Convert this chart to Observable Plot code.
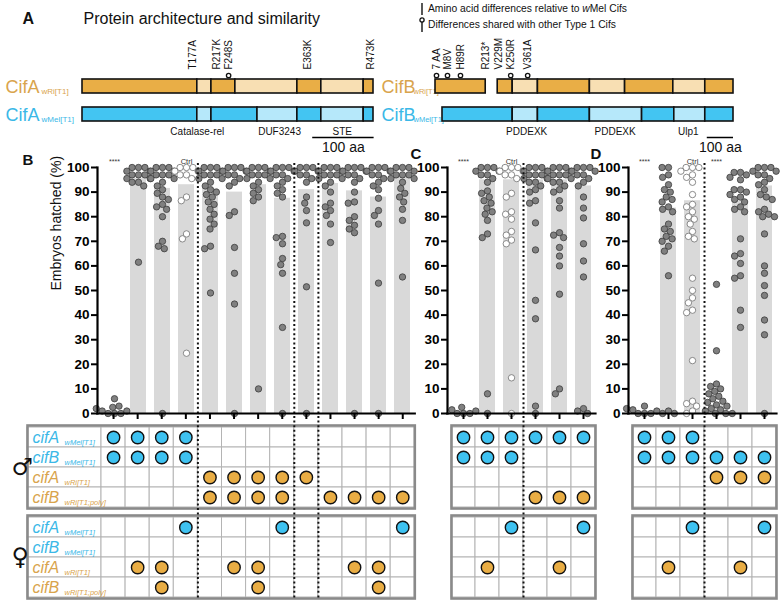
<!DOCTYPE html>
<html><head><meta charset="utf-8">
<script src="https://cdn.jsdelivr.net/npm/d3@7"></script>
<script src="https://cdn.jsdelivr.net/npm/@observablehq/plot@0.6"></script>
<style>
html,body{margin:0;padding:0;background:#fff;}
#fig{position:relative;width:780px;height:601px;overflow:hidden;font-family:"Liberation Sans",Arial,sans-serif;background:#fff;}
.leg{position:absolute;font-size:10.3px;line-height:12px;white-space:nowrap;color:#111;}
.leg svg{position:absolute;}
</style></head><body><div id="fig"></div>
<script>
// ---------- Panel A data (positions in amino acids) ----------
const cifA_wRi_start = [0,187,210,249,350,389,458];
const cifA_wRi_end   = [187,210,249,350,389,458,474];
const cifA_wRi_shade = ["d","l","d","l","d","l","d"];
const cifA_wMel_start = [0,187,210,285,350,389,458];
const cifA_wMel_end   = [187,210,285,350,389,458,474];
const cifA_wMel_shade = ["d","l","d","l","d","l","d"];
const mutA_label  = ["T177A","R217K","F248S","E363K","R473K"];
const mutA_pos    = [179,218,238,367,469];
const mutA_shared = [false,false,true,false,false];
const domA_name = ["Catalase-rel","DUF3243","STE"];
const domA_pos  = [187,321,423];
const scaleA = [375,475];

const cifB_wRi_start = [-28,221,281,382,590,731,924,1052];
const cifB_wRi_end   = [173,281,382,590,731,924,1052,1165];
const cifB_wRi_shade = ["d","d","l","d","l","d","l","d"];
const cifB_wMel_start = [0,281,382,590,799,928,1052];
const cifB_wMel_end   = [281,382,590,799,928,1052,1165];
const cifB_wMel_shade = ["d","l","d","l","d","l","d"];
const mutB_label  = ["7 AA","M8V","H89R","R213*","V229M","K250R","V361A"];
const mutB_pos    = [-24,20,72,173,225,273,341];
const mutB_shared = [true,true,true,false,false,true,true];
const domB_name = ["PDDEXK","PDDEXK","Ulp1"];
const domB_pos  = [337,691,984];
const scaleB = [1060,1165];

// ---------- Panels B-D: embryos hatched (%) ----------
const yTicks = [0,10,20,30,40,50,60,70,80,90,100];
const hatchB = [
 [0,0,0,1,1,2,2.5,3,6],
 [100,100,100,98.5,98.5,97,97,97,95.5,95.5,94,94,92.5,61.5],
 [100,100,100,98.5,98.5,97,97,97,95.5,95.5,94,92.5,91,89.5,88,87,85,84,83,80,70,68,67,0],
 [100,100,100,98.5,98.5,97,97,95.5,88,86.5,73,71,24.5],
 [100,100,100,98.5,98.5,97,97,97,95.5,95.5,94,92.5,91,90,89,88,86,85,83,81,79,77,75,68,67,49],
 [100,100,100,98.5,98.5,97,97,95.5,94,92.5,82,80.5,67.5,57,44.5,0],
 [100,100,100,98.5,98.5,97,97,97,95.5,95.5,94,92.5,91,89.5,88,86.5,10],
 [100,100,100,98.5,98.5,97,97,95.5,94,92.5,91,89.5,88,72,71.5,69,63,60.5,57,35,0],
 [100,100,100,98.5,98.5,97,97,95.5,94,88,85.5,82.5,77.5,51.5,0],
 [100,100,100,98.5,98.5,97,97,97,95.5,95.5,94,92.5,90,85.5,84,82.5,80.5,77,69.5],
 [100,100,100,98.5,98.5,97,97,95.5,94,90,86,85.5,80,78.5,76.5,75,73.5,0],
 [100,100,100,98.5,98.5,97,97,95.5,94,92.5,91,87.5,82.5,80.5,77,53,0],
 [100,100,100,98.5,98.5,97,97,97,95.5,95.5,94,91.5,89.5,88,86,83,78.5,55.5]
];
const meanB = [1,95.5,91.5,93,91.5,90,93,87.5,91,93.5,90.5,88,96];
const ctrlB = [4], starsB = [1], sepsB = [4.5,8.5,9.5];

const hatchC = [
 [0,0,0,1,1.5,2.5],
 [100,100,100,98.5,98.5,97,97,95.5,94,90.5,89.5,88,86.5,85.5,83.5,82,81,78.5,73,71.5,8,0],
 [100,100,100,98.5,98.5,97,97,95.5,89.5,88,82,81,79,74,72.5,70.5,69,14.5,0],
 [100,100,100,98.5,98.5,97,97,97,95.5,95.5,94,94,92.5,91,90,86.5,85.5,77.5,66.5,46,38.5,3,0],
 [100,100,100,98.5,98.5,97,97,97,95.5,95.5,94,94,92.5,91,90,86.5,83.5,73.5,72.5,71.5,67.5,64,60,48.5,10,8],
 [100,100,100,98.5,98.5,97,97,95.5,94,92.5,88,83.5,79.5,69,62,55.5,2,1,0]
];
const meanC = [1,95,95,95,95,92.5];
const ctrlC = [3], starsC = [1], sepsC = [3.5];

const hatchD = [
 [0,0,0,1,1.5,2,3],
 [100,100,97,96,93,91,90,88,87,86,84,83,82,77,75,74,72,71,70,68,66,56,1,0,0],
 [100,100,100,98.5,97,96,94,89,85,84,82,80,79,77,74,72,71,55,50,47,45,42,41,21.5,5,4,3,1,0],
 [12,11,10,9,8,7,6,5,4.5,3.5,3,2,1.5,1,0,0,0,25.5,52.5],
 [98,98,97,96,95,91,91,90,89,88,87,86,84,83,82,71,65,64,61,56,55,42,35],
 [100,100,100,98.5,98.5,97,97,95.5,94,93,91,89,88,87,83,82,81,80,80,73,60,57,52,48,38,32,0]
];
const meanD = [1,83.5,86.5,3.5,86.5,92.5];
const ctrlD = [3], starsD = [1,4], sepsD = [3.5];

// ---------- Genotype tables ----------
const rowKeys = ["cifA_wMel","cifB_wMel","cifA_wRi","cifB_wRi"];
const rowMain = ["cifA","cifB","cifA","cifB"];
const rowSub  = ["wMel[T1]","wMel[T1]","wRi[T1]","wRi[T1;poly]"];
const maleB   = [[1,2,3,4],[1,2,3,4],[5,6,7,8,9],[5,6,7,8,10,11,12,13]];
const femaleB = [[4,8,13],[],[2,3,6,7,11,12],[3,7,12]];
const maleC   = [[1,2,3,4,5,6],[1,2,3],[],[4,5,6]];
const femaleC = [[3,6],[],[2,5],[]];
const maleD   = [[1,2,3],[1,2,3,4,5,6],[4,5,6],[]];
const femaleD = [[3,6],[],[2,5],[]];

// ---------- colours ----------
const OR_D="#E9AE46", OR_L="#F8DFB3", BL_D="#43C5F2", BL_L="#B6E8FA";
const TXT_OR="#D9A44D", TXT_BL="#3BB8E7";
const DOT_BL="#3EC2F1", DOT_OR="#E9AD44";
const FONT='"Liberation Sans", Arial, sans-serif';

const fig = document.getElementById("fig");
function place(el, left, top){
  el.style.position="absolute"; el.style.left=left+"px"; el.style.top=top+"px";
  el.style.background="transparent"; el.style.maxWidth="none"; el.style.overflow="visible";
  el.style.fontFamily=FONT;
  fig.appendChild(el);
}
function segs(row, s, e, sh){ return s.map((v,i)=>({row, x1:v, x2:e[i], shade:sh[i]})); }

// ---------- Panel A ----------
function protPlot({left, width, ml, mr, domain, segments, muts, doms, scale, name, mainX, subX, subSize, extra}){
  const segFill = d => d.row==="wRi" ? (d.shade==="d"?OR_D:OR_L) : (d.shade==="d"?BL_D:BL_L);
  const plain = muts.filter(d=>!d.shared), shared = muts.filter(d=>d.shared);
  const rowsLab = [{row:"wRi", main:name, sub:"wRi[T1]", c:TXT_OR},{row:"wMel", main:name, sub:"wMel[T1]", c:TXT_BL}];
  const p = Plot.plot({
    width, height:155, marginLeft:ml, marginRight:mr, marginTop:78, marginBottom:34,
    x:{domain, axis:null}, y:{domain:["wRi","wMel"], axis:null, paddingInner:0.517, paddingOuter:0},
    marks:[
      Plot.text(rowsLab, {y:"row", frameAnchor:"left", dx:mainX-ml, dy:1, textAnchor:"start", text:"main", fill:"c", fontSize:18}),
      Plot.text(rowsLab, {y:"row", frameAnchor:"left", dx:subX-ml, dy:5, textAnchor:"start", text:"sub", fill:"c", fontSize:subSize}),
      Plot.ruleX(plain, {x:"pos", y:()=>"wRi", insetTop:-8, insetBottom:7, strokeWidth:1.3}),
      Plot.ruleX(shared, {x:"pos", y:()=>"wRi", insetTop:-5, insetBottom:7, strokeWidth:1.3}),
      Plot.barX(segments, {x1:"x1", x2:"x2", y:"row", fill:segFill, stroke:"#111", strokeWidth:1.6}),
      Plot.ruleX(muts, {x:"pos", y:()=>"wRi", insetTop:7, insetBottom:7, strokeWidth:1.3}),
      Plot.dot(shared, {x:"pos", y:()=>"wRi", dy:-11, r:2.2, fill:"white", stroke:"#111", strokeWidth:1.3}),
      Plot.text(muts, {x:"pos", y:()=>"wRi", text:"label", rotate:-90, textAnchor:"start", dy:-17, fontSize:10, fill:"#111"}),
      Plot.text(doms, {x:"pos", y:()=>"wMel", text:"name", dy:17, fontSize:10, fill:"#111"}),
      Plot.ruleY([scale], {x1:d=>d[0], x2:d=>d[1], y:()=>"wMel", dy:23, strokeWidth:1.5}),
      Plot.text([scale], {x:d=>(d[0]+d[1])/2, y:()=>"wMel", dy:33, text:()=>"100 aa", fontSize:14, fill:"#111"}),
      ...(extra||[])
    ]
  });
  place(p, left, 0);
}
protPlot({left:0, width:390, ml:82, mr:17, domain:[0,474], name:"CifA", mainX:5, subX:41, subSize:8,
  segments:[...segs("wRi",cifA_wRi_start,cifA_wRi_end,cifA_wRi_shade), ...segs("wMel",cifA_wMel_start,cifA_wMel_end,cifA_wMel_shade)],
  muts: mutA_label.map((l,i)=>({label:l,pos:mutA_pos[i],shared:mutA_shared[i]})),
  doms: domA_name.map((n,i)=>({name:n,pos:domA_pos[i]})), scale:scaleA,
  extra:[
    Plot.text(["A"], {frameAnchor:"top-left", dx:-60, dy:-66, textAnchor:"start", fontSize:16, fontWeight:"bold", fill:"#111"}),
    Plot.text(["Protein architecture and similarity"], {frameAnchor:"top-left", dx:1, dy:-66, textAnchor:"start", fontSize:16, fill:"#111"})
  ]});
protPlot({left:380, width:400, ml:62, mr:47, domain:[0,1165], name:"CifB", mainX:1, subX:33, subSize:7.5,
  segments:[...segs("wRi",cifB_wRi_start,cifB_wRi_end,cifB_wRi_shade), ...segs("wMel",cifB_wMel_start,cifB_wMel_end,cifB_wMel_shade)],
  muts: mutB_label.map((l,i)=>({label:l,pos:mutB_pos[i],shared:mutB_shared[i]})),
  doms: domB_name.map((n,i)=>({name:n,pos:domB_pos[i]})), scale:scaleB});

// ---------- Tables ----------
function tablePanel({left, width, n, step, tableLeft, labelW, male, female}){
  const ML = tableLeft-left, MR = width-ML-labelW-n*step, x0 = 0.5-labelW/step;
  const cells=[], pres=[];
  for (const sex of ["m","f"]) for (const row of rowKeys){
    if (labelW) cells.push({sex,row,x1:x0,x2:0.5});
    for (let c=1;c<=n;c++) cells.push({sex,row,x1:c-0.5,x2:c+0.5});
  }
  [["m",male],["f",female]].forEach(([sex,tab])=>tab.forEach((cols,i)=>cols.forEach(col=>pres.push({sex,row:rowKeys[i],col}))));
  const labs=[];
  if (labelW) for (const sex of ["m","f"]) rowKeys.forEach((row,i)=>labs.push({sex,row,main:rowMain[i],sub:rowSub[i],c:row.includes("wMel")?TXT_BL:TXT_OR}));
  const marks=[
    Plot.barX(cells, {x1:"x1", x2:"x2", y:"row", fy:"sex", fill:"white", stroke:"#b4b4b4", strokeWidth:1}),
    Plot.dot(pres, {x:"col", y:"row", fy:"sex", r:6.2, fill:d=>d.row.includes("wMel")?DOT_BL:DOT_OR, stroke:"#111", strokeWidth:1.4}),
    Plot.frame({stroke:"#8a8a8a", strokeWidth:2.6})
  ];
  if (labelW){
    marks.push(Plot.text(labs, {y:"row", fy:"sex", frameAnchor:"left", dx:5, textAnchor:"start", text:"main", fill:"c", fontSize:16, fontStyle:"italic"}));
    marks.push(Plot.text(labs, {y:"row", fy:"sex", frameAnchor:"left", dx:37, dy:5, textAnchor:"start", text:"sub", fill:"c", fontSize:7.5, fontStyle:"italic"}));
    marks.push(Plot.text([{sex:"m",s:"\u2642"},{sex:"f",s:"\u2640"}], {fy:"sex", text:"s", frameAnchor:"left", dx:-16, fontSize:24, fontWeight:"bold", fontFamily:"DejaVu Sans", fill:"#111"}));
  }
  const p = Plot.plot({
    width, height:181, marginLeft:ML, marginRight:MR, marginTop:4, marginBottom:3,
    x:{domain:[x0, n+0.5], axis:null},
    y:{domain:rowKeys, axis:null, padding:0},
    fy:{domain:["m","f"], axis:null, label:null, paddingInner:0.08, paddingOuter:0},
    marks
  });
  place(p, left, 420);
}

// ---------- Scatter panels ----------
function scatterPanel({left, width, n, step, bandLeft, hatch, means, ctrl, stars, seps, letter, lx, ly, ylabel}){
  const ML = bandLeft-left, MR = width-ML-n*step;
  const cols = d3.range(1,n+1);
  const pts = hatch.flatMap((vs,i)=>vs.map(v=>({col:i+1, v, ctrl:ctrl.includes(i+1)})));
  const bars = means.map((m,i)=>({col:i+1, mean:m}));
  const fp = Plot.plot({
    width, height:285, marginLeft:ML, marginRight:MR, marginTop:27, marginBottom:12,
    fx:{domain:cols, paddingInner:0.33, paddingOuter:0.165, axis:null, label:null},
    y:{domain:[0,100], axis:null},
    marks:[
      Plot.barY(bars, {fx:"col", y:"mean", fill:"#d9d9d9"}),
      Plot.dot(pts, Plot.dodgeX({anchor:"middle", padding:0}, {fx:"col", y:"v", r:3.2,
        fill:d=>d.ctrl?"#ffffff":"#808080", stroke:d=>d.ctrl?"#707070":"#3c3c3c", strokeWidth:0.8})),
      Plot.text(stars, {fx:d=>d, frameAnchor:"top", dy:-8, text:()=>"****", fontSize:7, fill:"#333"}),
      Plot.text(ctrl, {fx:d=>d, frameAnchor:"top", dy:-9, text:()=>"Ctrl", fontSize:7.5, fill:"#333"})
    ]
  });
  place(fp, left, 140);
  const MLo = ML-4;
  const marks = [
    Plot.ruleX(seps, {strokeDasharray:"2,2.6", strokeWidth:2, insetTop:-4, insetBottom:-185, stroke:"#111"}),
    Plot.frame({anchor:"left", strokeWidth:2.2}),
    Plot.frame({anchor:"bottom", strokeWidth:2.2}),
    Plot.axisY({ticks:yTicks, tickSize:6, strokeWidth:2, fontSize:13.5, fontWeight:"bold", tickPadding:2, label:null}),
    Plot.axisX({ticks:cols, tickSize:6, strokeWidth:2, tickFormat:()=>"", label:null}),
    Plot.text([letter], {frameAnchor:"top-left", dx:lx, dy:ly, textAnchor:"start", fontSize:15, fontWeight:"bold", fill:"#111"})
  ];
  if (ylabel) marks.push(Plot.text([ylabel], {frameAnchor:"left", rotate:-90, dx:-41, fontSize:14, fill:"#111"}));
  const ov = Plot.plot({
    width, height:461, marginLeft:MLo, marginRight:MR, marginTop:27, marginBottom:188,
    x:{domain:[0.5-4/step, n+0.5]}, y:{domain:[0,100]},
    marks
  });
  place(ov, left, 140);
}

tablePanel({left:0, width:420, n:13, step:24.1, tableLeft:27, labelW:74, male:maleB, female:femaleB});
tablePanel({left:420, width:180, n:6, step:24, tableLeft:451, labelW:0, male:maleC, female:femaleC});
tablePanel({left:600, width:180, n:6, step:24, tableLeft:632, labelW:0, male:maleD, female:femaleD});

scatterPanel({left:0, width:420, n:13, step:24.1, bandLeft:101, hatch:hatchB, means:meanB, ctrl:ctrlB, stars:starsB, seps:sepsB, letter:"B", lx:-75, ly:-13, ylabel:"Embryos hatched (%)"});
scatterPanel({left:420, width:180, n:6, step:24, bandLeft:451, hatch:hatchC, means:meanC, ctrl:ctrlC, stars:starsC, seps:sepsC, letter:"C", lx:-37, ly:-19});
scatterPanel({left:600, width:180, n:6, step:24, bandLeft:632, hatch:hatchD, means:meanD, ctrl:ctrlD, stars:starsD, seps:sepsD, letter:"D", lx:-38, ly:-19});

// ---------- Legend (top right) ----------
const leg = document.createElement("div");
leg.innerHTML = `
<div class="leg" style="left:418px;top:2px;"><svg width="8" height="14" style="left:0;top:0"><line x1="4" y1="1" x2="4" y2="13" stroke="#111" stroke-width="1.4"/></svg><span style="position:absolute;left:10px;top:1px">Amino acid differences relative to <i>w</i>Mel Cifs</span></div>
<div class="leg" style="left:418px;top:17px;"><svg width="8" height="16" style="left:0;top:0"><line x1="4" y1="4" x2="4" y2="15" stroke="#111" stroke-width="1.4"/><circle cx="4" cy="3" r="2.1" fill="#fff" stroke="#111" stroke-width="1.3"/></svg><span style="position:absolute;left:10px;top:2px">Differences shared with other Type 1 Cifs</span></div>`;
fig.appendChild(leg);
</script></body></html>
